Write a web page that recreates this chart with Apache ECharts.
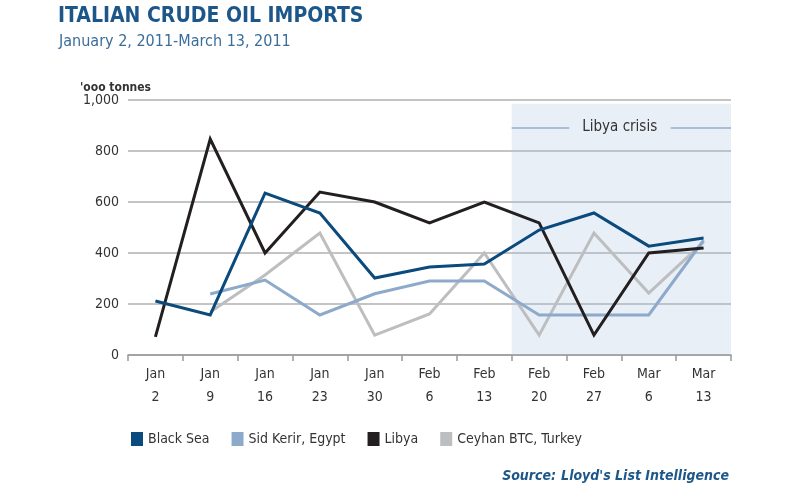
<!DOCTYPE html>
<html>
<head>
<meta charset="utf-8">
<script src="https://cdn.jsdelivr.net/npm/echarts@6/dist/echarts.min.js"></script>
<style>
  html, body { margin: 0; padding: 0; background: #fff; }
  #chart { width: 790px; height: 489px; }
</style>
</head>
<body>
<div id="chart"></div>
<script>
// Italian crude oil imports, '000 tonnes, weekly
const weeks = ['Jan\n2', 'Jan\n9', 'Jan\n16', 'Jan\n23', 'Jan\n30', 'Feb\n6', 'Feb\n13', 'Feb\n20', 'Feb\n27', 'Mar\n6', 'Mar\n13'];
const blackSea = [212, 157, 635, 557, 302, 345, 357, 490, 557, 427, 459];
const sidKerir = [null, 239, 294, 157, 240, 290, 290, 157, 157, 157, 450];
const libya = [71, 847, 400, 639, 600, 518, 600, 518, 78, 400, 420];
const ceyhan = [null, 169, 314, 478, 78, 161, 400, 78, 478, 243, 443];
const crisisStart = 7;   // Feb 20 band
const crisisEnd = 11;

const FONT = "'Liberation Sans Narrow', 'DejaVu Sans Condensed', sans-serif";
const chart = echarts.init(document.getElementById('chart'));

function lineSeries(name, data, color) {
    return {
        name: name, type: 'line', data: data, symbol: 'none', z: 3,
        lineStyle: { color: color, width: 3, join: 'miter' },
        itemStyle: { color: color }
    };
}

chart.setOption({
    animation: false,
    title: [
        { text: 'ITALIAN CRUDE OIL IMPORTS', left: 53, top: 1,
          textStyle: { fontFamily: FONT, fontSize: 21, fontWeight: 'bold', color: '#1d5789' } },
        { text: 'January 2, 2011-March 13, 2011', left: 54, top: 29,
          textStyle: { fontFamily: FONT, fontSize: 16, fontWeight: 'normal', color: '#3a6d9a' } },
        { text: "'ooo tonnes", left: 75, top: 77,
          textStyle: { fontFamily: FONT, fontSize: 12, fontWeight: 'bold', color: '#333' } },
        { text: '{b|Source:} {i|Lloyd\'s List Intelligence}', right: 56, top: 462,
          textStyle: { rich: {
              b: { fontFamily: FONT, fontSize: 14, fontStyle: 'italic', fontWeight: 'bold', color: '#1d5789' },
              i: { fontFamily: FONT, fontSize: 14, fontStyle: 'italic', color: '#1d5789' }
          } } }
    ],
    legend: {
        left: 126, top: 427, icon: 'rect', itemWidth: 12, itemHeight: 14, itemGap: 22,
        textStyle: { fontFamily: FONT, fontSize: 14, color: '#333' },
        data: ['Black Sea', 'Sid Kerir, Egypt', 'Libya', 'Ceyhan BTC, Turkey']
    },
    grid: { left: 128, right: 59, top: 100, bottom: 134 },
    xAxis: [{
        type: 'category', data: weeks, boundaryGap: true,
        axisLine: { lineStyle: { color: '#999', width: 1.5 } },
        axisTick: { show: true, length: 6, lineStyle: { color: '#999', width: 1.5 } },
        axisLabel: { fontFamily: FONT, fontSize: 14, color: '#333', lineHeight: 23, margin: 8 }
    }, {
        type: 'value', min: 0, max: 11, show: false
    }],
    yAxis: {
        type: 'value', min: 0, max: 1000, interval: 200,
        axisLine: { show: false }, axisTick: { show: false },
        splitLine: { lineStyle: { color: '#c4c4c4', width: 2 } },
        axisLabel: { fontFamily: FONT, fontSize: 14, color: '#333', margin: 9,
            formatter: v => v >= 1000 ? '1,000' : String(v) }
    },
    series: [
        {
            name: 'crisis', type: 'line', xAxisIndex: 1, data: [], z: 1,
            markArea: {
                silent: true,
                itemStyle: { color: 'rgba(170,192,222,0.26)' },
                label: { show: false },
                data: [[{ xAxis: crisisStart, yAxis: 0 }, { xAxis: crisisEnd, yAxis: 985 }]]
            },
            markLine: {
                silent: true, symbol: 'none',
                lineStyle: { color: '#a9bfd9', width: 2, type: 'solid' },
                label: { show: false },
                data: [
                    [{ xAxis: crisisStart, yAxis: 890 }, { xAxis: 8.05, yAxis: 890 }],
                    [{ xAxis: 9.9, yAxis: 890 }, { xAxis: crisisEnd, yAxis: 890 }]
                ]
            },
            markPoint: {
                silent: true, symbol: 'rect', symbolSize: 1,
                itemStyle: { color: 'rgba(0,0,0,0)' },
                label: { show: true, position: 'inside', formatter: 'Libya crisis',
                    fontFamily: FONT, fontSize: 15, color: '#333' },
                data: [{ coord: [8.97, 893] }]
            }
        },
        lineSeries('Ceyhan BTC, Turkey', ceyhan, '#bdbec0'),
        lineSeries('Sid Kerir, Egypt', sidKerir, '#8eaacb'),
        lineSeries('Libya', libya, '#231f20'),
        lineSeries('Black Sea', blackSea, '#0a4a7c')
    ]
});
</script>
</body>
</html>
